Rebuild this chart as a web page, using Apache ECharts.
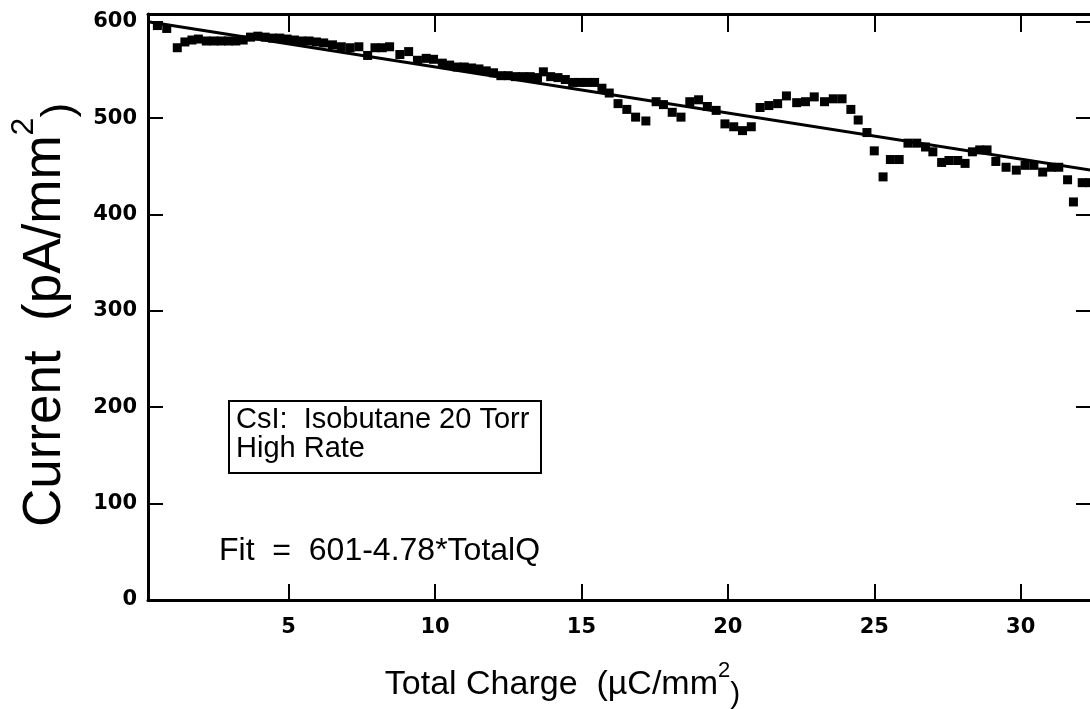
<!DOCTYPE html>
<html>
<head>
<meta charset="utf-8">
<script src="https://cdn.jsdelivr.net/npm/echarts@6/dist/echarts.min.js"></script>
<style>
html,body{margin:0;padding:0;background:#fff;}
#chart{width:1090px;height:709px;}
</style>
</head>
<body>
<div id="chart"></div>
<script>
// Measured data (Total Charge, Current)
const chargeValues = [0.52,0.84,1.20,1.46,1.70,1.92,2.19,2.45,2.70,2.95,3.20,3.45,3.70,3.95,4.20,4.45,4.70,4.95,5.20,5.45,5.70,5.95,6.20,6.50,6.80,7.10,7.40,7.70,7.95,8.20,8.45,8.80,9.10,9.40,9.70,9.95,10.25,10.50,10.75,11.00,11.25,11.50,11.75,12.00,12.25,12.50,12.75,13.00,13.25,13.50,13.70,13.95,14.20,14.45,14.70,14.95,15.20,15.45,15.70,15.95,16.25,16.55,16.85,17.20,17.55,17.80,18.10,18.40,18.70,19.00,19.30,19.60,19.90,20.20,20.50,20.80,21.10,21.40,21.70,22.00,22.35,22.65,22.95,23.30,23.60,23.90,24.20,24.45,24.75,25.00,25.30,25.55,25.85,26.15,26.45,26.75,27.00,27.30,27.55,27.85,28.10,28.35,28.60,28.85,29.15,29.50,29.85,30.15,30.45,30.75,31.05,31.30,31.60,31.80,32.10,32.35];
const currentValues = [596,593,573,579,581,582,580,580,580,580,580,581,584,585,584,583,583,582,581,580,580,579,578,576,574,573,574,565,573,573,574,566,569,560,562,561,557,555,553,553,552,551,549,547,544,544,543,543,543,542,548,543,542,540,537,537,537,537,531,526,515,509,501,497,517,514,506,501,517,519,512,508,494,491,487,491,511,513,515,523,516,517,522,517,520,520,509,498,485,466,439,457,457,474,474,470,465,454,456,456,453,465,467,467,455,449,446,451,451,444,449,449,436,413,433,433];
// Fit line endpoints: Fit = 601 - 4.78*TotalQ
const fitCharge = [0.2, 32.4];
const fitCurrent = [600, 446];
const yTickValues = [0,100,200,300,400,500,600];
const xTickValues = [5,10,15,20,25,30];
const boxLines = ['CsI:  Isobutane 20 Torr', 'High Rate'];
const fitText = 'Fit  =  601-4.78*TotalQ';

const scatterData = chargeValues.map((x,i)=>[x, currentValues[i]]);
const fitData = fitCharge.map((x,i)=>[x, fitCurrent[i]]);

const chart = echarts.init(document.getElementById('chart'), null, {renderer:'canvas'});
const lineStyleAxis = {color:'#000', width:3};
const tickFont = {color:'#000', fontFamily:'DejaVu Sans', fontWeight:'bold', fontSize:21};

const option = {
  animation:false,
  backgroundColor:'#fff',
  grid:{left:148, right:-1, top:14, bottom:109, outerBoundsMode:'none', containLabel:false},
  xAxis:[{
    type:'value', min:0.2, max:32.4, splitNumber:6, position:'bottom',
    axisLine:{show:true, onZero:false, lineStyle:lineStyleAxis},
    axisTick:{inside:true, length:16, lineStyle:{color:'#000', width:2}},
    axisLabel:Object.assign({margin:17, showMinLabel:false, showMaxLabel:false,
      formatter:v=> xTickValues.includes(v) ? String(v) : ''}, tickFont),
    splitLine:{show:false},
    name:'Total Charge  (µC/mm{sup|2}{sub|)}',
    nameLocation:'middle', nameGap:60,
    nameTextStyle:{color:'#000', fontFamily:'Liberation Sans', fontSize:34, lineHeight:50,
      padding:[0,114,0,0],
      rich:{sup:{fontFamily:'Liberation Sans', fontSize:22, lineHeight:22, verticalAlign:'top', color:'#000'},
            sub:{fontFamily:'Liberation Sans', fontSize:30, lineHeight:30, verticalAlign:'bottom', color:'#000'}}}
  },{
    type:'value', min:0.2, max:32.4, splitNumber:6, position:'top',
    axisLine:{show:true, onZero:false, lineStyle:lineStyleAxis},
    axisTick:{inside:true, length:18, lineStyle:{color:'#000', width:2}},
    axisLabel:{show:false}, splitLine:{show:false}
  }],
  yAxis:[{
    type:'value', min:0, max:608, interval:100, position:'left',
    axisLine:{show:true, onZero:false, lineStyle:lineStyleAxis},
    axisTick:{inside:true, length:15, lineStyle:{color:'#000', width:2}},
    axisLabel:Object.assign({margin:11, showMaxLabel:false,
      formatter:v=> yTickValues.includes(v) ? String(v) : ''}, tickFont),
    splitLine:{show:false},
    name:'Current  (pA/mm{sup|2}{sub|)}',
    nameLocation:'middle', nameGap:66, nameRotate:90,
    nameTextStyle:{color:'#000', fontFamily:'Liberation Sans', fontSize:53, lineHeight:74,
      padding:[0,16,0,0],
      rich:{sup:{fontFamily:'Liberation Sans', fontSize:32, lineHeight:32, verticalAlign:'top', color:'#000'},
            sub:{fontFamily:'Liberation Sans', fontSize:44, lineHeight:44, verticalAlign:'bottom', color:'#000'}}}
  },{
    type:'value', min:0, max:608, interval:100, position:'right',
    axisLine:{show:true, onZero:false, lineStyle:lineStyleAxis},
    axisTick:{inside:true, length:15, lineStyle:{color:'#000', width:2}},
    axisLabel:{show:false}, splitLine:{show:false}
  }],
  series:[{
    type:'scatter', xAxisIndex:0, yAxisIndex:0, data:scatterData,
    symbol:'rect', symbolSize:9, itemStyle:{color:'#000', opacity:1}
  },{
    type:'line', xAxisIndex:0, yAxisIndex:0, data:fitData,
    showSymbol:false, symbol:'none', lineStyle:{color:'#000', width:3}
  }],
  graphic:[{
    type:'rect', left:228, top:400, shape:{width:312, height:72},
    style:{fill:'#fff', stroke:'#000', lineWidth:2}
  },{
    type:'text', left:236, top:405,
    style:{text:boxLines.join('\n'), fill:'#000', font:'29px "Liberation Sans"', lineHeight:29}
  },{
    type:'text', left:219, top:535,
    style:{text:fitText, fill:'#000', font:'32px "Liberation Sans"'}
  }]
};
chart.setOption(option);
</script>
</body>
</html>
